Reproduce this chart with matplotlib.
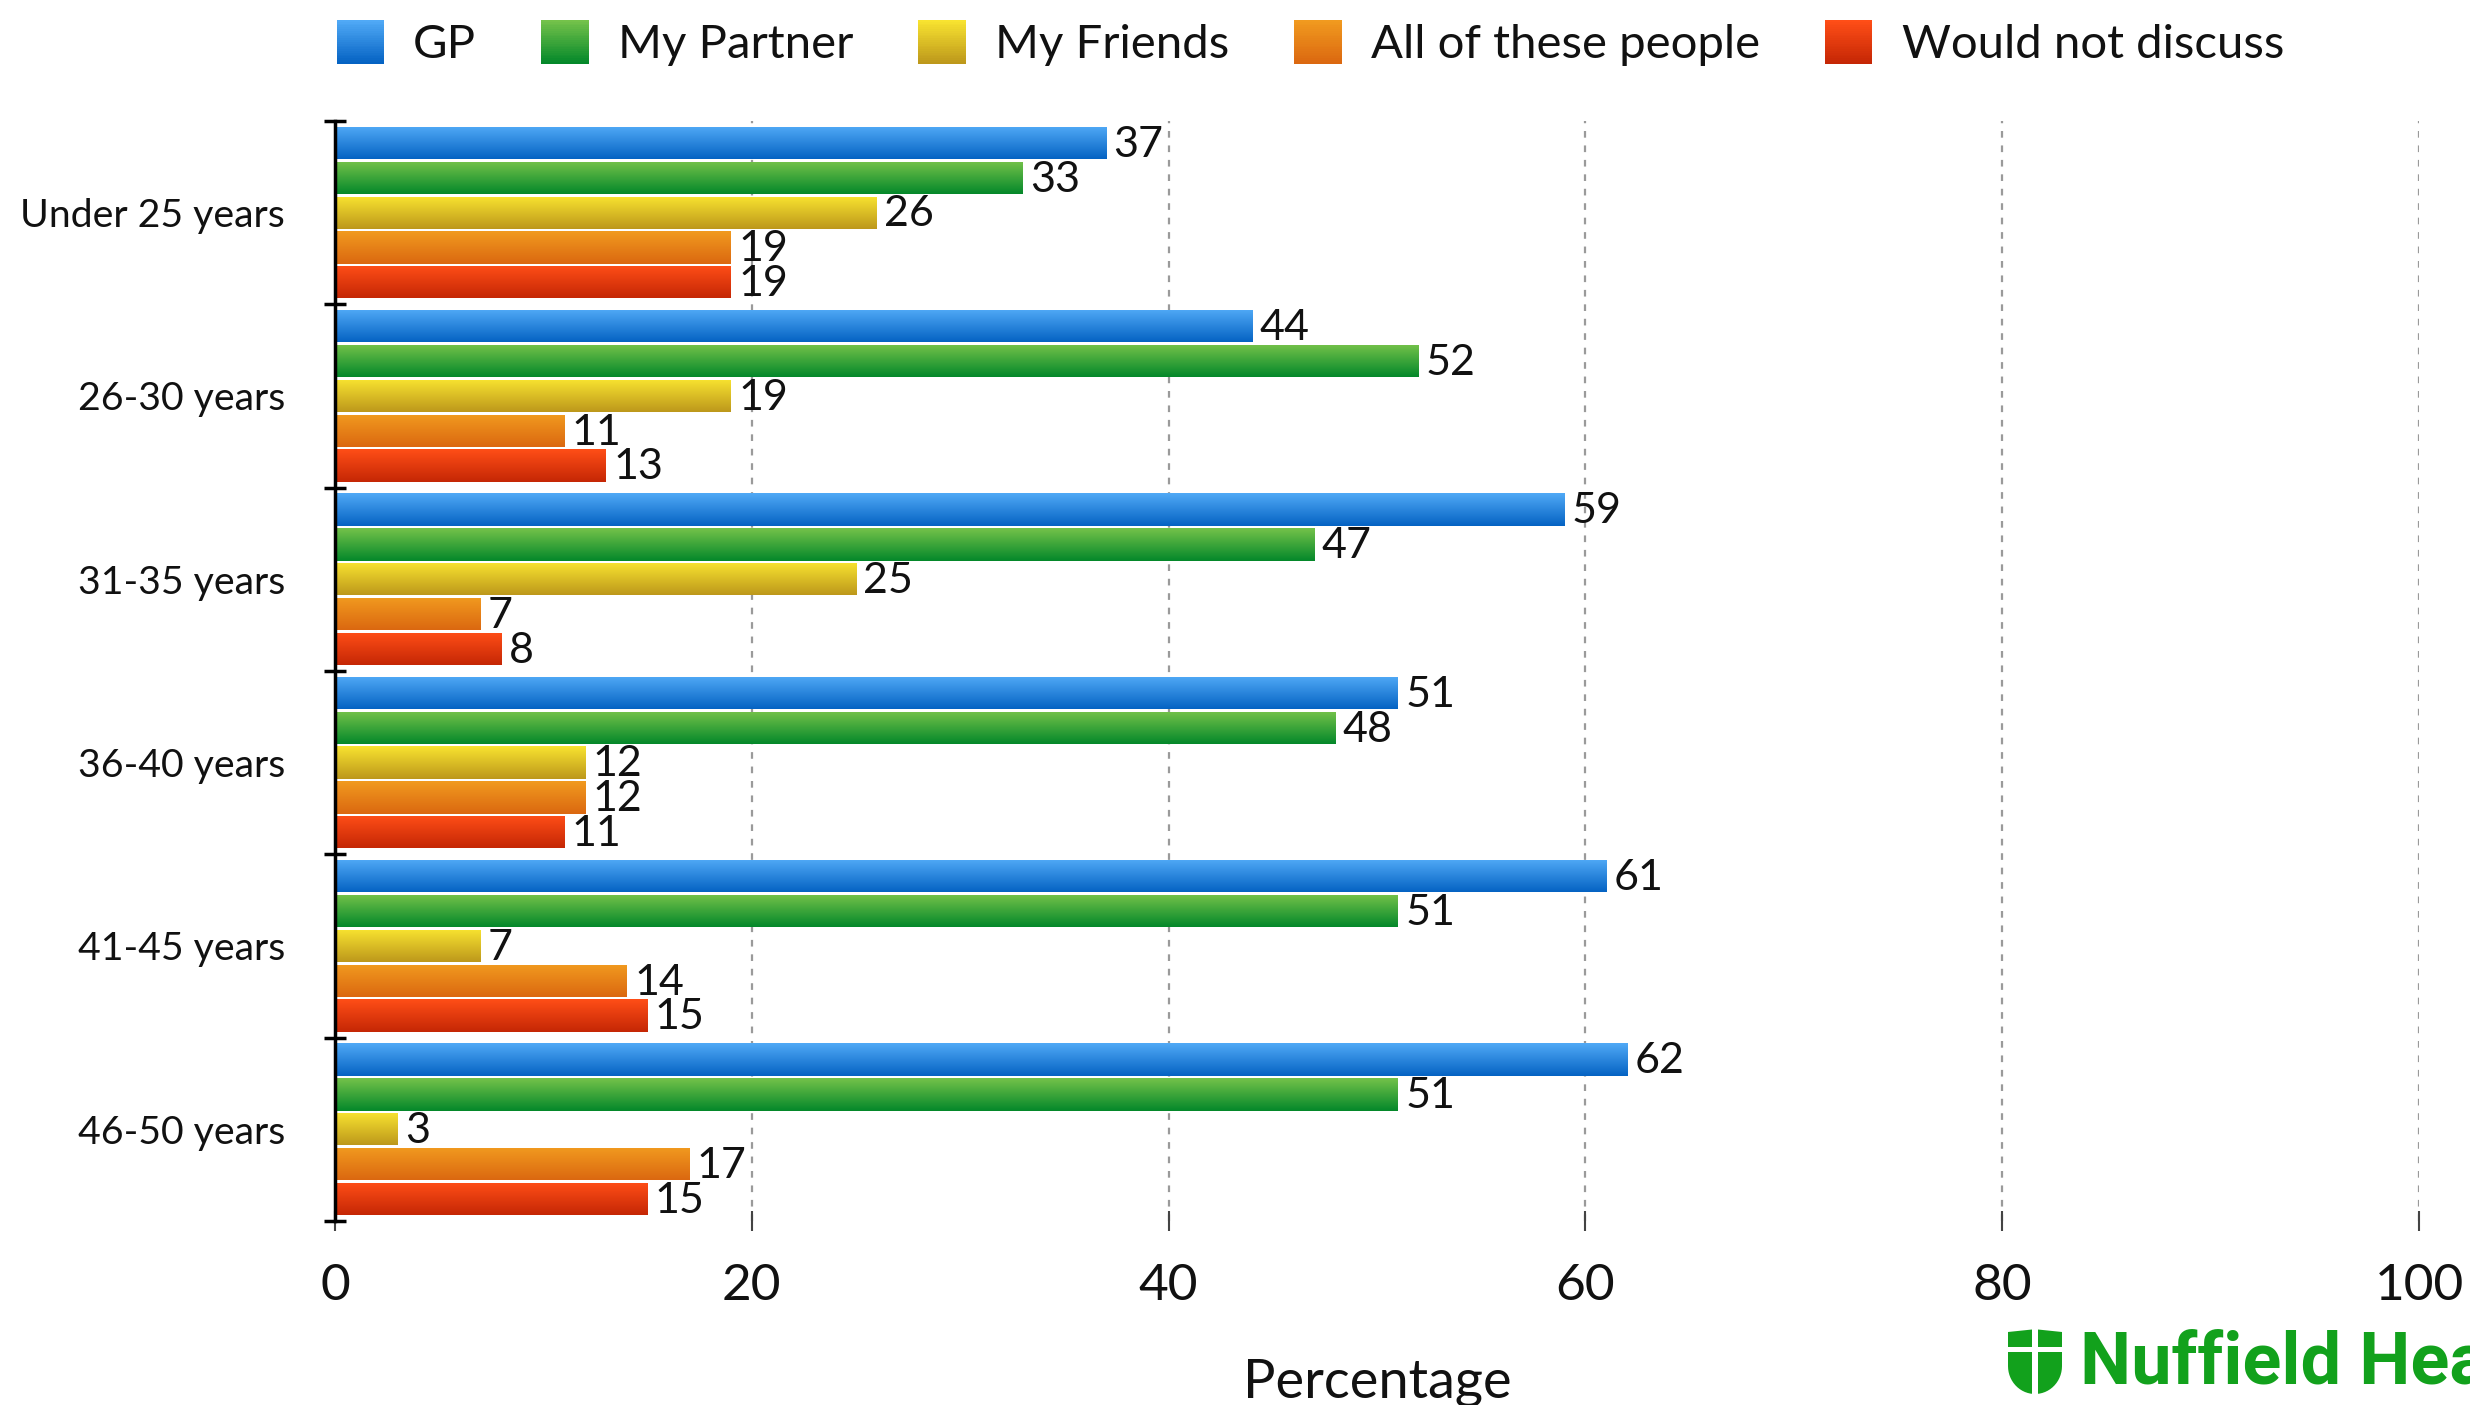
import numpy as np
import matplotlib
matplotlib.use("Agg")
import matplotlib.pyplot as plt
from matplotlib.colors import to_rgb
from matplotlib.patches import Rectangle, Polygon
from matplotlib.legend_handler import HandlerBase

# ---------------- data ----------------
categories = ["Under 25 years", "26-30 years", "31-35 years", "36-40 years", "41-45 years", "46-50 years"]
series_names = ["GP", "My Partner", "My Friends", "All of these people", "Would not discuss"]
gp = [37, 44, 59, 51, 61, 62]
partner = [33, 52, 47, 48, 51, 51]
friends = [26, 19, 25, 12, 7, 3]
all_people = [19, 11, 7, 12, 14, 17]
would_not = [19, 13, 8, 11, 15, 15]
x_ticks = [0, 20, 40, 60, 80, 100]

series_values = [gp, partner, friends, all_people, would_not]
top_colors = ["#50A9F6", "#74C24A", "#F8E330", "#F19A1F", "#FF4E17"]
bottom_colors = ["#0563C3", "#04882A", "#BD981B", "#DB6810", "#C52705"]

FONT = "Lato"
plt.rcParams["font.family"] = [FONT, "DejaVu Sans"]
plt.rcParams["text.color"] = "#111111"
plt.rcParams["xtick.labelcolor"] = "#111111"
plt.rcParams["ytick.labelcolor"] = "#111111"

fig = plt.figure(figsize=(24.7, 14.05), dpi=100)
ax = fig.add_axes([0.1356, 0.131, 0.8438, 0.7829])

n_series = len(series_values)
pitch = 0.19
bh = 0.176
ypos = np.arange(len(categories))


def gradient_img(c_top, c_bot, n=64):
    t = np.linspace(0, 1, n)[:, None]
    a = np.array(to_rgb(c_top))
    b = np.array(to_rgb(c_bot))
    return (a * (1 - t) + b * t)[:, None, :]


for j, vals in enumerate(series_values):
    offs = (j - (n_series - 1) / 2) * pitch
    bars = ax.barh(ypos + offs, vals, height=bh, color=bottom_colors[j], zorder=3)
    img = gradient_img(top_colors[j], bottom_colors[j])
    for p, v in zip(bars.patches, vals):
        x0, y0 = p.get_x(), p.get_y()
        w, h = p.get_width(), p.get_height()
        im = ax.imshow(img, extent=(x0, x0 + w, y0 + h, y0), origin="upper",
                       aspect="auto", interpolation="bilinear", zorder=4)
        im.set_clip_path(p)
        ax.text(x0 + w + 0.35, y0 + h / 2 + 0.01, f"{v}", va="center", ha="left",
                fontsize=31, color="#111111", zorder=5)

ax.set_xlim(0, 100)
ax.set_ylim(len(categories) - 0.5, -0.5)

# axes styling
for s in ["top", "right", "bottom"]:
    ax.spines[s].set_visible(False)
ax.spines["left"].set_linewidth(2.5)
ax.spines["left"].set_color("black")
ax.spines["left"].set_zorder(6)

ax.set_xticks(x_ticks)
ax.set_xticklabels([str(t) for t in x_ticks], fontsize=37)
ax.tick_params(axis="x", direction="inout", length=14, width=1.5, color="#444444", pad=23)
ax.grid(axis="x", linestyle=(0, (3, 3.5)), color="#9a9a9a", linewidth=1.6, zorder=0)

ax.set_yticks(np.arange(len(categories) + 1) - 0.5)
ax.set_yticklabels([])
ax.tick_params(axis="y", which="major", direction="inout", length=16, width=2.5, color="black")
ax.set_yticks(ypos, minor=True)
ax.set_yticklabels(categories, minor=True, fontsize=28.3)
ax.tick_params(axis="y", which="minor", length=0, pad=36)

fig.text(0.5575, 1 - 1358 / 1405, "Percentage", ha="center", va="top", fontsize=39)


# legend with gradient handles
class GradHandler(HandlerBase):
    def __init__(self, ctop, cbot):
        super().__init__()
        self.ctop, self.cbot = ctop, cbot

    def create_artists(self, legend, orig_handle, xdescent, ydescent, width, height, fontsize, trans):
        arts = []
        n = 24
        a = np.array(to_rgb(self.ctop))
        b = np.array(to_rgb(self.cbot))
        side = height
        x0 = -xdescent
        y0 = -ydescent
        for i in range(n):
            t = i / (n - 1)
            col = a * t + b * (1 - t)
            r = Rectangle((x0, y0 + side * i / n), width, side / n + 0.3, facecolor=col,
                          edgecolor="none", transform=trans)
            arts.append(r)
        return arts


handles = [Rectangle((0, 0), 1, 1) for _ in series_names]
hmap = {h: GradHandler(top_colors[i], bottom_colors[i]) for i, h in enumerate(handles)}
fig.legend(handles, series_names, handler_map=hmap, loc="center", ncol=5,
           bbox_to_anchor=(0.5305, 1 - 43 / 1405), frameon=False, fontsize=34,
           handlelength=1.0, handleheight=1.05, handletextpad=0.62, columnspacing=1.38,
           borderaxespad=0, borderpad=0)

# logo
green = "#12A11C"
fig.text(2080 / 2470, 1 - 1364 / 1405, "Nuffield Health", color=green, fontsize=52,
         fontweight="bold", ha="left", va="center", family="Roboto")
# shield
sx0, sx1 = 2008 / 2470, 2062 / 2470
sy1, sy0 = 1 - 1332 / 1405, 1 - 1394 / 1405
t = np.linspace(0, np.pi, 30)
cx = (sx0 + sx1) / 2
rx = (sx1 - sx0) / 2
ymid = sy0 + (sy1 - sy0) * 0.45
pts = [(sx0, sy1), (cx, sy1 + 0.002), (sx1, sy1)]
pts += [(sx1, ymid)]
pts += [(cx + rx * np.cos(a), ymid - (ymid - sy0) * np.sin(a)) for a in t]
pts += [(sx0, ymid)]
fig.patches.append(Polygon(pts, closed=True, transform=fig.transFigure, facecolor=green,
                           edgecolor="none"))
fig.patches.append(Rectangle((cx - 0.0012, sy0 - 0.002), 0.0024, sy1 - sy0 + 0.006,
                             transform=fig.transFigure, facecolor="white", edgecolor="none"))
fig.patches.append(Rectangle((sx0 - 0.002, sy0 + (sy1 - sy0) * 0.68), sx1 - sx0 + 0.004, 0.0035,
                             transform=fig.transFigure, facecolor="white", edgecolor="none"))

fig.savefig("out.png", dpi=100)
